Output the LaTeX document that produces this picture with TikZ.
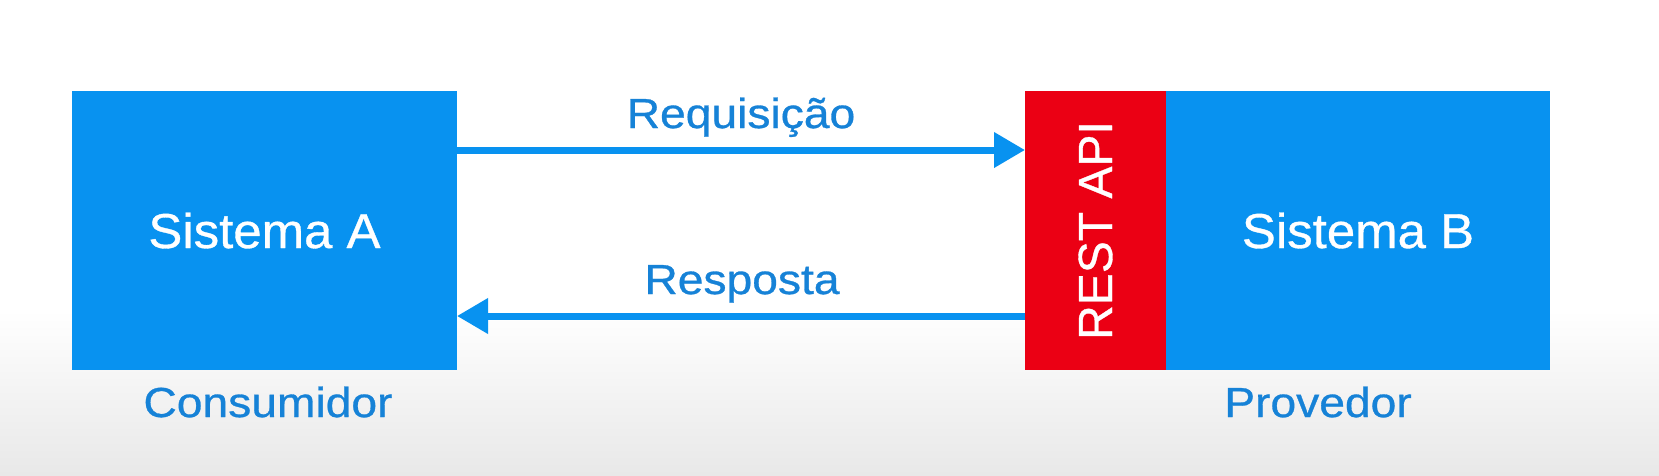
\documentclass[tikz,border=0pt]{standalone}
\usepackage{fontspec}
\setmainfont[FakeBold=0.7]{Liberation Sans}
\newfontfamily\lblfont[FakeStretch=1.1,FakeBold=0.7]{Liberation Sans}
\newfontfamily\sysfont[FakeStretch=1.04,FakeBold=0.7]{Liberation Sans}
\usetikzlibrary{arrows.meta,calc}
\definecolor{boxblue}{RGB}{8,146,240}
\definecolor{txtblue}{RGB}{22,130,215}
\definecolor{apired}{RGB}{235,0,20}
\tikzset{
  sysbox/.style={fill=boxblue, draw=none, inner sep=0pt, outer sep=0pt,
    minimum height=279pt, text=white, font=\sysfont\fontsize{49}{55}\selectfont},
  apibox/.style={fill=apired, draw=none, inner sep=0pt, outer sep=0pt,
    minimum height=279pt, minimum width=141pt},
  lbl/.style={text=txtblue, inner sep=0pt, anchor=base, font=\lblfont\fontsize{42}{50}\selectfont},
  flow/.style={draw=boxblue, line width=7pt, -{Triangle[length=31pt,width=34pt]}}
}
\begin{document}
\begin{tikzpicture}[x=1pt,y=-1pt]
\useasboundingbox (0,0) rectangle (1659,475);
\fill[white] (0,0) rectangle (1659,475);
\shade[top color=white, bottom color=gray!18] (0,310) rectangle (1659,475);
\node[sysbox, minimum width=385pt] (A) at (264.5,230.5) {Sistema A};
\node[apibox] (R) at (1095.5,230.5) {};
\node[sysbox, minimum width=384pt] (B) at (1358,230.5) {Sistema B};
\node[rotate=90, text=white, inner sep=0pt, font=\fontsize{48}{54}\selectfont] (api) at (R.center) {REST API};
\draw[flow] ($(A.north east)+(0,59)$) -- ($(R.north west)+(0,59)$);
\draw[flow] ($(R.south west)+(0,-54)$) -- ($(A.south east)+(0,-54)$);
\node[lbl] (req) at (741,128) {Requisição};
\node[lbl] (resp) at (742,294) {Resposta};
\node[lbl] (cons) at (268,417) {Consumidor};
\node[lbl] (prov) at (1318,417) {Provedor};
\end{tikzpicture}
\end{document}
